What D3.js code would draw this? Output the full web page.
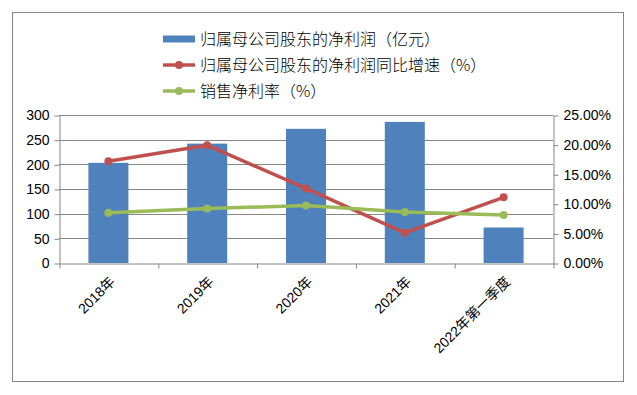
<!DOCTYPE html>
<html>
<head>
<meta charset="utf-8">
<script src="https://cdn.jsdelivr.net/npm/d3@7"></script>
<style>
  body { margin: 0; background: #fff; }
  svg text { font-family: "Liberation Sans", "Noto Sans CJK SC", sans-serif; fill: #000; }
  .axis path, .axis line { stroke: #868686; }
</style>
</head>
<body>
<div id="chart"></div>
<script>
// chart data
var categories = ["2018年", "2019年", "2020年", "2021年", "2022年第一季度"];
var netProfit = [203, 242, 272, 286, 72];          // 亿元, left axis
var profitGrowth = [17.2, 19.9, 12.6, 5.1, 11.1];  // %, right axis
var netMargin = [8.5, 9.2, 9.7, 8.6, 8.1];         // %, right axis
var leftTicks = [0, 50, 100, 150, 200, 250, 300];
var rightTicks = [0, 0.05, 0.10, 0.15, 0.20, 0.25];
var seriesNames = ["归属母公司股东的净利润（亿元）", "归属母公司股东的净利润同比增速（%）", "销售净利率（%）"];

var svgWidth = 637, svgHeight = 395;
var plot = { left: 59, right: 553, top: 115, bottom: 263 };

var svg = d3.select("#chart").append("svg")
  .attr("width", svgWidth)
  .attr("height", svgHeight);

// outer chart frame
svg.append("rect")
  .attr("x", 12.5).attr("y", 12.5)
  .attr("width", 611).attr("height", 369)
  .attr("fill", "none")
  .attr("stroke", "#858585");

var x = d3.scaleBand()
  .domain(categories)
  .range([plot.left, plot.right])
  .paddingInner(0.595)
  .paddingOuter(0.2975);

var yLeft = d3.scaleLinear().domain([0, 300]).range([plot.bottom, plot.top]);
var yRight = d3.scaleLinear().domain([0, 0.25]).range([plot.bottom, plot.top]);

// gridlines
svg.append("g")
  .selectAll("line")
  .data(leftTicks.slice(1))
  .enter().append("line")
  .attr("x1", plot.left).attr("x2", plot.right)
  .attr("y1", d => Math.round(yLeft(d)) + 0.5)
  .attr("y2", d => Math.round(yLeft(d)) + 0.5)
  .attr("stroke", "#868686");

// bars
svg.append("g")
  .selectAll("rect")
  .data(netProfit)
  .enter().append("rect")
  .attr("x", (d, i) => x(categories[i]))
  .attr("y", d => yLeft(d))
  .attr("width", x.bandwidth())
  .attr("height", d => plot.bottom - yLeft(d))
  .attr("fill", "#4F81BD");

// left axis
svg.append("g")
  .attr("class", "axis")
  .attr("transform", `translate(${plot.left + 0.5}, 0.5)`)
  .call(d3.axisLeft(yLeft).tickValues(leftTicks).tickSize(5).tickSizeOuter(0).tickPadding(5))
  .call(g => g.selectAll("text").style("font-size", "14px"));

// right axis
svg.append("g")
  .attr("class", "axis")
  .attr("transform", `translate(${plot.right + 0.5}, 0.5)`)
  .call(d3.axisRight(yRight).tickValues(rightTicks).tickFormat(d3.format(".2%")).tickSize(5).tickSizeOuter(0).tickPadding(5))
  .call(g => g.selectAll("text").style("font-size", "14px"));

// category axis: ticks on the category boundaries
var xEdge = d3.scaleLinear().domain([0, categories.length]).range([plot.left, plot.right]);
svg.append("g")
  .attr("class", "axis")
  .attr("transform", `translate(0.5, ${plot.bottom + 0.5})`)
  .call(d3.axisBottom(xEdge).tickValues(d3.range(categories.length + 1)).tickFormat("").tickSize(5).tickSizeOuter(0));

var cx = d => x(d) + x.bandwidth() / 2;

svg.append("g")
  .selectAll("text")
  .data(categories)
  .enter().append("text")
  .attr("transform", d => `translate(${cx(d) + 4}, ${plot.bottom + 16}) rotate(-45)`)
  .attr("text-anchor", "end")
  .attr("dy", "0.35em")
  .style("font-size", "14px")
  .text(d => d);

// lines
function drawLine(values, color) {
  var pts = values.map((v, i) => [cx(categories[i]), yRight(v / 100)]);
  svg.append("path")
    .attr("d", d3.line()(pts))
    .attr("fill", "none")
    .attr("stroke", color)
    .attr("stroke-width", 3.5)
    .attr("stroke-linejoin", "round");
  svg.append("g")
    .selectAll("circle")
    .data(pts)
    .enter().append("circle")
    .attr("cx", d => d[0]).attr("cy", d => d[1])
    .attr("r", 4)
    .attr("fill", color);
}
drawLine(profitGrowth, "#C0504D");
drawLine(netMargin, "#9BBB59");

// legend
var legend = svg.append("g").attr("transform", "translate(163, 0)");
var rowY = [39, 65, 91];
legend.append("rect")
  .attr("x", 0).attr("y", rowY[0] - 3.5)
  .attr("width", 32).attr("height", 7)
  .attr("fill", "#4F81BD");
[["#C0504D", 1], ["#9BBB59", 2]].forEach(function(s) {
  legend.append("line")
    .attr("x1", 0).attr("x2", 32)
    .attr("y1", rowY[s[1]]).attr("y2", rowY[s[1]])
    .attr("stroke", s[0]).attr("stroke-width", 3.5);
  legend.append("circle")
    .attr("cx", 16).attr("cy", rowY[s[1]]).attr("r", 4)
    .attr("fill", s[0]);
});
legend.selectAll("text.leg")
  .data(seriesNames)
  .enter().append("text")
  .attr("class", "leg")
  .attr("x", 37)
  .attr("y", (d, i) => rowY[i])
  .attr("dy", "0.35em")
  .style("font-family", "'Noto Sans CJK SC', sans-serif")
  .style("font-size", "16px")
  .style("font-weight", 300)
  .text(d => d);
</script>
</body>
</html>
